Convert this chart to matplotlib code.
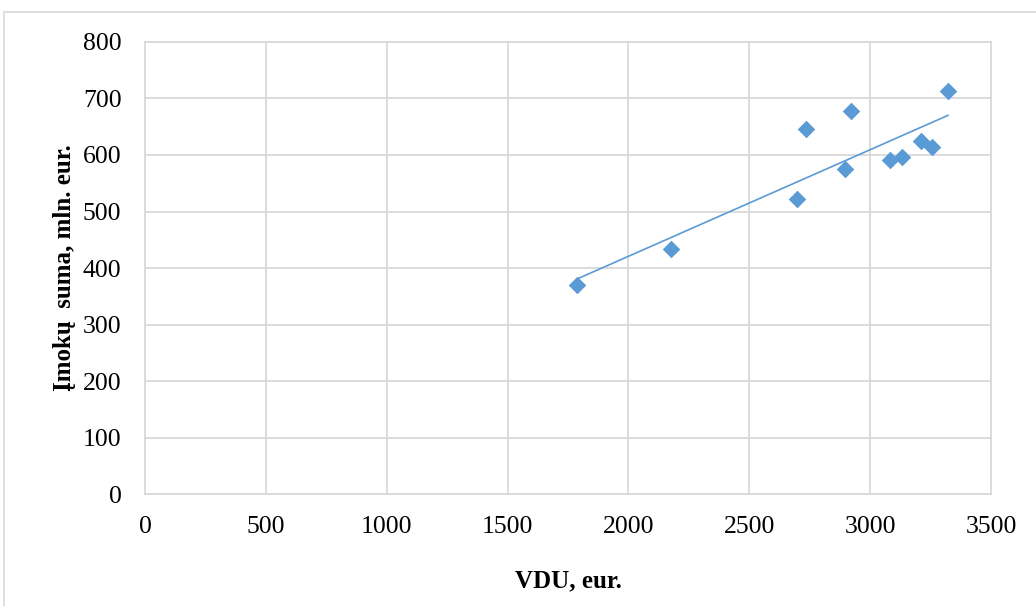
import numpy as np
import matplotlib.pyplot as plt
from matplotlib.patches import Rectangle

# VDU (average wage), eur. and contribution sum, mln. eur.
vdu = [1787, 2176, 2697, 2735, 2895, 2920, 3084, 3131, 3209, 3256, 3322]
imokos = [370, 434, 522, 646, 576, 678, 592, 596, 624, 615, 713]

x_ticks = [0, 500, 1000, 1500, 2000, 2500, 3000, 3500]
y_ticks = [0, 100, 200, 300, 400, 500, 600, 700, 800]

blue = "#5B9BD5"
grid = "#D9D9D9"

plt.rcParams["font.family"] = ["Liberation Serif", "DejaVu Serif"]

fig = plt.figure(figsize=(10.36, 6.06), dpi=100)
ax = fig.add_axes([0.140, 0.1848, 0.8166, 0.7459])

# outer chart frame
fig.patches.append(Rectangle((4 / 1036, -0.1), 1.2, 1 - 12 / 606 + 0.1,
                             transform=fig.transFigure, fill=False,
                             edgecolor=grid, linewidth=1.2))

ax.scatter(vdu, imokos, marker="D", s=80, color=blue, zorder=3, linewidths=0)

# linear trend line
k, b = np.polyfit(vdu, imokos, 1)
xs = np.array([min(vdu), max(vdu)])
ax.plot(xs, k * xs + b, color=blue, linewidth=1.2, zorder=2)

ax.set_xlim(0, 3500)
ax.set_ylim(0, 800)
ax.set_xticks(x_ticks)
ax.set_yticks(y_ticks)
ax.grid(True, color=grid, linewidth=1.3)
ax.set_axisbelow(True)
for s in ax.spines.values():
    s.set_color(grid)
    s.set_linewidth(1.3)
ax.tick_params(length=0, labelsize=18.5)
ax.tick_params(axis="x", pad=15.5)
ax.tick_params(axis="y", pad=17)

ax.set_xlabel("VDU, eur.", fontsize=18, fontweight="bold", labelpad=23)
ax.set_ylabel("Įmokų  suma, mln. eur.", fontsize=18, fontweight="bold", labelpad=5)

fig.savefig("out.png", dpi=100)
